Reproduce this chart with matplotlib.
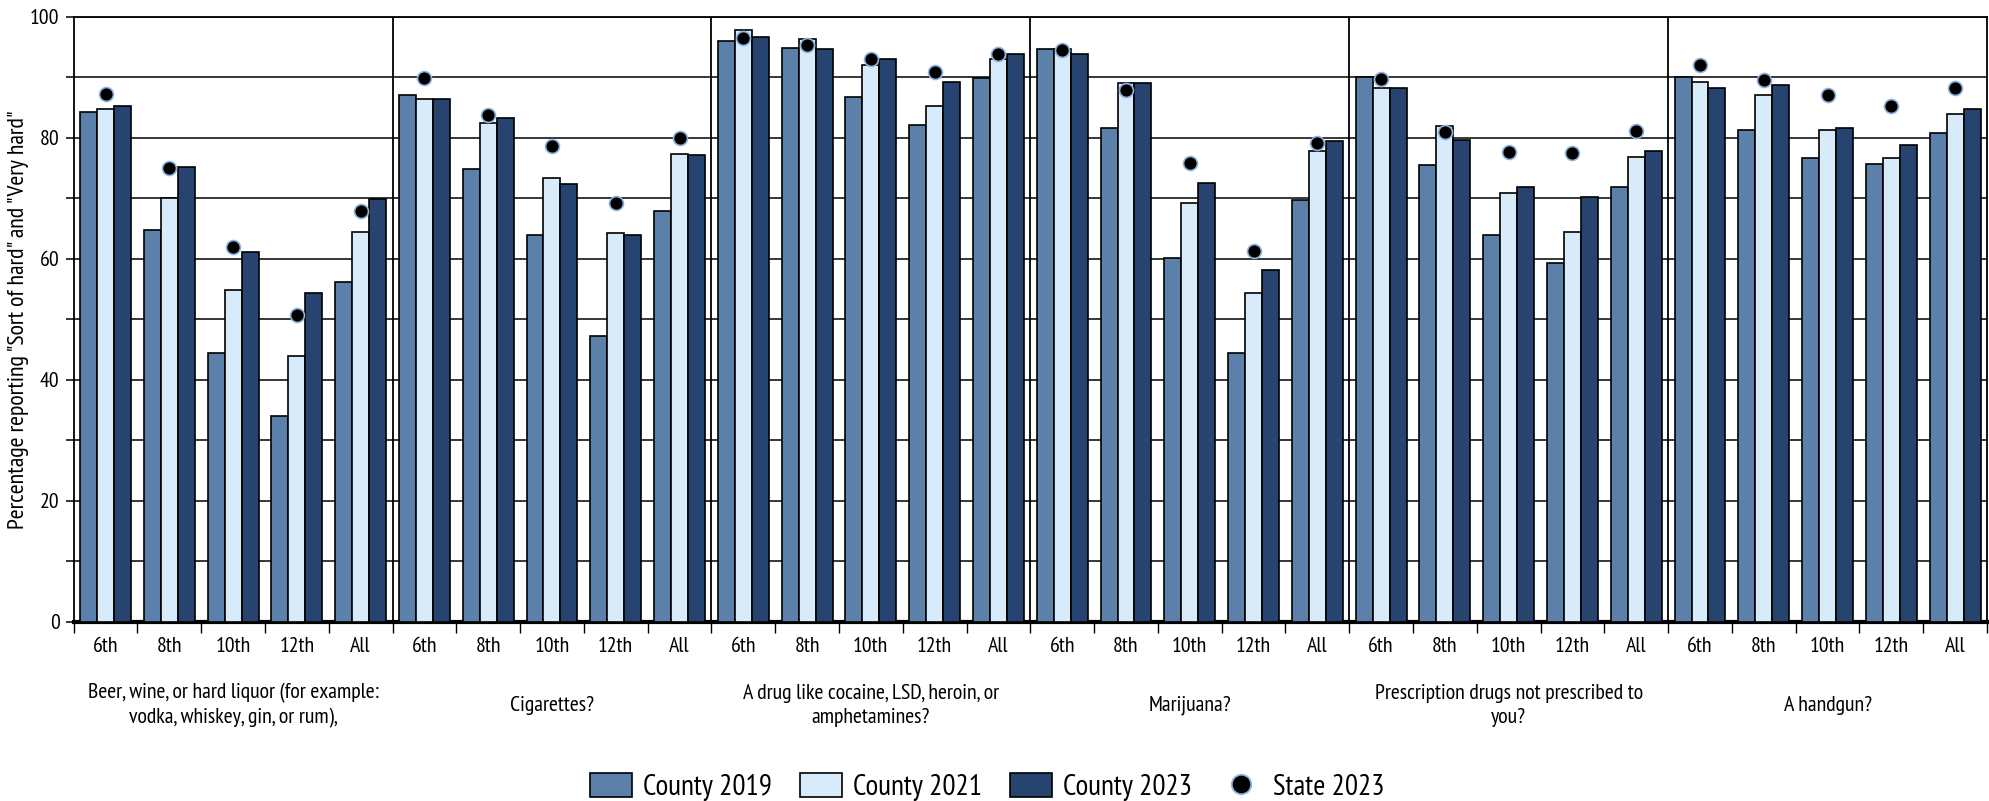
import matplotlib
matplotlib.use("Agg")
import matplotlib.pyplot as plt
from matplotlib.patches import Patch
from matplotlib.lines import Line2D
from matplotlib import font_manager as fm
import numpy as np

grades = ["6th", "8th", "10th", "12th", "All"]
groups = [
    "Beer, wine, or hard liquor (for example:\nvodka, whiskey, gin, or rum),",
    "Cigarettes?",
    "A drug like cocaine, LSD, heroin, or\namphetamines?",
    "Marijuana?",
    "Prescription drugs not prescribed to\nyou?",
    "A handgun?",
]

county_2019 = [84.2, 64.8, 44.4, 34.0, 56.1,
               87.0, 74.9, 63.9, 47.3, 67.9,
               96.0, 94.9, 86.8, 82.2, 89.9,
               94.6, 81.6, 60.2, 44.4, 69.8,
               90.1, 75.5, 63.9, 59.4, 71.8,
               90.1, 81.3, 76.6, 75.7, 80.8]
county_2021 = [84.7, 70.1, 54.9, 43.9, 64.4,
               86.4, 82.5, 73.4, 64.2, 77.4,
               97.8, 96.4, 92.1, 85.3, 93.1,
               94.6, 89.0, 69.3, 54.3, 77.9,
               88.2, 82.0, 70.9, 64.4, 76.9,
               89.2, 87.0, 81.3, 76.6, 83.9]
county_2023 = [85.3, 75.2, 61.1, 54.3, 69.9,
               86.4, 83.3, 72.4, 63.9, 77.1,
               96.6, 94.6, 93.1, 89.2, 93.8,
               93.8, 89.0, 72.6, 58.2, 79.4,
               88.2, 79.7, 71.8, 70.3, 77.9,
               88.2, 88.7, 81.6, 78.8, 84.7]
state_2023 = [87.2, 75.0, 61.9, 50.7, 67.9,
              89.9, 83.7, 78.7, 69.3, 80.0,
              96.5, 95.3, 93.0, 90.8, 93.8,
              94.5, 87.9, 75.9, 61.3, 79.2,
              89.7, 81.0, 77.7, 77.5, 81.1,
              92.1, 89.6, 87.0, 85.3, 88.3]

series_names = ["County 2019", "County 2021", "County 2023", "State 2023"]
colors = ["#5b80a9", "#d8ebfb", "#26446f"]

# choose a narrow font when present
available = {f.name for f in fm.fontManager.ttflist}
family = "DejaVu Sans"
for cand in ["PT Sans Narrow", "Archivo Narrow", "Fira Sans Condensed",
             "Roboto Condensed", "Open Sans Condensed", "Pragati Narrow"]:
    if cand in available:
        family = cand
        break
plt.rcParams['font.family'] = [family, 'DejaVu Sans']

fig = plt.figure(figsize=(19.9, 8.01), dpi=100)
renderer = fig.canvas.get_renderer()


def fit_size(s, target_px):
    t = fig.text(0, 0, s, fontsize=10)
    wpx = t.get_window_extent(renderer).width
    t.remove()
    return 10 * target_px / wpx


fs_text = fit_size("Beer, wine, or hard liquor (for example:", 294)
fs_legend = fit_size("County 2019", 129)
fs_ylabel = fit_size('Percentage reporting "Sort of hard" and "Very hard"', 421)
px_legend = fs_legend * 100 / 72

ax = fig.add_axes([0.037, 0.2235, 0.9615, 0.7555])

n = len(groups) * len(grades)
x = np.arange(n)
w = 0.266
for i, (vals, c) in enumerate(zip([county_2019, county_2021, county_2023], colors)):
    ax.bar(x + (i - 1) * w, vals, width=w, color=c, edgecolor="black",
           linewidth=1.2, zorder=3)
ax.plot(x, state_2023, linestyle="none", marker="o", markersize=10,
        markerfacecolor="black", markeredgecolor="#8fb3dc", markeredgewidth=1.2,
        zorder=4)

ax.set_xlim(-0.5, n - 0.5)
ax.set_ylim(0, 100)

ax.set_yticks(np.arange(0, 101, 20))
ax.set_yticks(np.arange(0, 101, 10), minor=True)
ax.yaxis.grid(True, which="both", color="black", linewidth=1.1, zorder=0)
ax.set_axisbelow(True)
ax.tick_params(axis="y", which="both", direction="out", length=6, width=1.1,
               labelsize=fs_text, pad=4, colors="black")

ax.set_xticks(x)
ax.set_xticklabels(grades * len(groups))
ax.set_xticks(np.arange(-0.5, n, 1.0), minor=True)
ax.tick_params(axis="x", which="major", length=0, pad=11, labelsize=fs_text)
ax.tick_params(axis="x", which="minor", length=8, width=1.0, direction="out")

for k in range(1, len(groups)):
    ax.axvline(k * len(grades) - 0.5, color="black", linewidth=1.3, zorder=2)

for s in ["left", "right", "top"]:
    ax.spines[s].set_linewidth(1.3)
ax.spines["bottom"].set_linewidth(3)

ax.set_ylabel('Percentage reporting "Sort of hard" and "Very hard"',
              fontsize=fs_ylabel, va="center")
ax.yaxis.set_label_coords(-0.029, 0.5)

trans = ax.get_xaxis_transform()
for g, name in enumerate(groups):
    cx = g * len(grades) + (len(grades) - 1) / 2
    ax.text(cx, -0.138, name, transform=trans, ha="center", va="center",
            fontsize=fs_text, linespacing=1.3)

handles = [Patch(facecolor=c, edgecolor="black", linewidth=1.2) for c in colors]
handles.append(Line2D([], [], linestyle="none", marker="o", markersize=14,
                      markerfacecolor="black", markeredgecolor="#8fb3dc",
                      markeredgewidth=1.3))
fig.legend(handles, series_names, loc="center", bbox_to_anchor=(0.496, 0.0175),
           ncol=4, frameon=False, fontsize=fs_legend,
           handlelength=42 / px_legend, handleheight=26 / px_legend,
           handletextpad=11 / px_legend, columnspacing=28 / px_legend)

fig.savefig("out.png", dpi=100)
